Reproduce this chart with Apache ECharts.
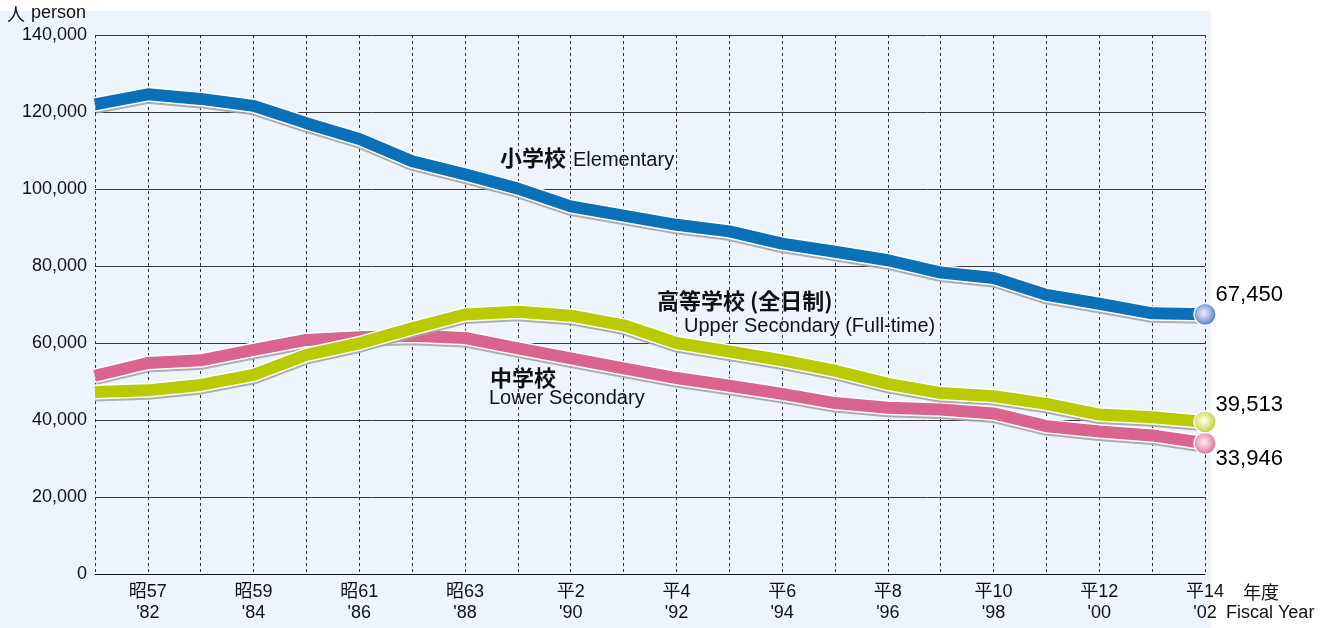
<!DOCTYPE html>
<html>
<head>
<meta charset="utf-8">
<title>児童・生徒数の推移</title>
<script src="https://cdn.jsdelivr.net/npm/echarts@6/dist/echarts.min.js"></script>
<style>
  html, body { margin: 0; padding: 0; background: #ffffff; }
  #panel { position: absolute; left: 0; top: 11px; width: 1211px; height: 617px; background: #edf4fb; }
  #chart { position: absolute; left: 0; top: 0; width: 1320px; height: 628px; }
</style>
</head>
<body>
<div id="panel"></div>
<div id="chart"></div>
<script>
// Fiscal years 1981–2002, Japanese era label and Western short year
const eraYears = ['昭56', '昭57', '昭58', '昭59', '昭60', '昭61', '昭62', '昭63', '平1', '平2', '平3',
  '平4', '平5', '平6', '平7', '平8', '平9', '平10', '平11', '平12', '平13', '平14'];
const westernYears = ["'81", "'82", "'83", "'84", "'85", "'86", "'87", "'88", "'89", "'90", "'91",
  "'92", "'93", "'94", "'95", "'96", "'97", "'98", "'99", "'00", "'01", "'02"];

// Number of students (persons)
const elementary = [122000, 124600, 123400, 121600, 117100, 113000, 107200, 103800, 100100, 95500, 93100,
  90700, 89000, 85800, 83700, 81500, 78300, 76900, 72500, 70200, 67700, 67450];
const lowerSecondary = [51500, 54800, 55500, 58200, 60800, 61500, 61900, 61300, 58600, 56000, 53400,
  50900, 48900, 46800, 44400, 43200, 42700, 41700, 38400, 37000, 36000, 33946];
const upperSecondary = [47300, 47700, 49100, 51700, 56900, 59900, 63800, 67400, 68100, 67100, 64600,
  60000, 57800, 55500, 52800, 49400, 47000, 46200, 44200, 41400, 40700, 39513];

const yTicks = { min: 0, max: 140000, interval: 20000 };

const categories = westernYears.map((w, i) => eraYears[i] + '\n' + w);
const last = categories.length - 1;
const fmt = v => Number(v).toLocaleString('en-US');

const LATIN = "'Liberation Sans', Arial, sans-serif";
const NARROW = "'Liberation Sans Narrow', 'Liberation Sans', 'Noto Sans CJK JP', sans-serif";
const CJK = "'Noto Sans CJK JP', sans-serif";

const schools = [
  { name: '小学校', data: elementary, color: '#0a71b9', inner: '#f3eef8', mid: '#a9b8e4', edge: '#2f6fc0', z: 3, labelOffset: [-1, -19] },
  { name: '中学校', data: lowerSecondary, color: '#d9648f', inner: '#fdf2f6', mid: '#f0b0c8', edge: '#d0608a', z: 5, labelOffset: [-1, 16] },
  { name: '高等学校', data: upperSecondary, color: '#b7cb00', inner: '#fdfef2', mid: '#e2eb98', edge: '#b2c618', z: 7, labelOffset: [-1, -17] }
];

const series = [];
schools.forEach(s => {
  // white edging with a thin grey drop line under the band
  series.push({
    type: 'line', data: s.data, symbol: 'none', silent: true, z: s.z,
    lineStyle: { width: 15, color: '#ffffff', join: 'round',
      shadowColor: 'rgba(165,165,165,0.9)', shadowOffsetY: 2, shadowBlur: 0 }
  });
  series.push({
    type: 'line', name: s.name, data: s.data, symbol: 'none', z: s.z + 1,
    lineStyle: { width: 12, color: s.color, join: 'round' }
  });
  // end point marker for the latest year with its value
  series.push({
    type: 'scatter', z: 10,
    data: [[categories[last], s.data[last]]],
    symbol: 'circle', symbolSize: 22,
    itemStyle: {
      color: { type: 'radial', x: 0.45, y: 0.45, r: 0.6,
        colorStops: [{ offset: 0, color: s.inner }, { offset: 0.45, color: s.mid }, { offset: 1, color: s.edge }] },
      borderColor: '#ffffff', borderWidth: 1.2, opacity: 1
    },
    label: {
      show: true, position: 'right', distance: 0, offset: s.labelOffset,
      formatter: p => fmt(p.value[1]),
      fontFamily: LATIN, fontSize: 22, color: '#000000', opacity: 1, textBorderWidth: 0
    },
    emphasis: { disabled: true }
  });
});

const chart = echarts.init(document.getElementById('chart'), null, { renderer: 'canvas' });
chart.setOption({
  animation: false,
  backgroundColor: 'transparent',
  grid: { left: 95, right: 115, top: 35, bottom: 54, containLabel: false },
  xAxis: {
    type: 'category', data: categories, boundaryGap: false,
    axisLine: { show: true, lineStyle: { color: '#111111', width: 1 } },
    axisTick: { show: false },
    axisLabel: {
      interval: (i) => i % 2 === 1, margin: 8,
      fontFamily: NARROW, fontSize: 18, lineHeight: 21, color: '#111111'
    },
    splitLine: { show: true, interval: 0, lineStyle: { color: '#333333', width: 1, type: [3, 3] } }
  },
  yAxis: {
    type: 'value', min: yTicks.min, max: yTicks.max, interval: yTicks.interval,
    axisLine: { show: false }, axisTick: { show: false },
    axisLabel: { formatter: v => fmt(v), margin: 8, fontFamily: LATIN, fontSize: 18, color: '#111111' },
    splitLine: { show: true, lineStyle: { color: '#3a3a3a', width: 1 } }
  },
  graphic: [
    { type: 'text', left: 7, top: 5, style: { text: '人', font: '18px ' + CJK, fill: '#111' } },
    { type: 'text', left: 31, top: 4, style: { text: 'person', font: '18px ' + LATIN, fill: '#111' } },

    { type: 'text', left: 500, top: 147, style: { text: '小学校', font: 'bold 22px ' + CJK, fill: '#111' } },
    { type: 'text', left: 573, top: 150, style: { text: 'Elementary', font: '20px ' + LATIN, fill: '#111' } },

    { type: 'text', left: 657, top: 290, style: { text: '高等学校 (全日制)', font: 'bold 22px ' + CJK, fill: '#111' } },
    { type: 'text', left: 684, top: 316, style: { text: 'Upper Secondary (Full-time)', font: '20px ' + LATIN, fill: '#111' } },

    { type: 'text', left: 490, top: 367, style: { text: '中学校', font: 'bold 22px ' + CJK, fill: '#111' } },
    { type: 'text', left: 489, top: 388, style: { text: 'Lower Secondary', font: '20px ' + LATIN, fill: '#111' } },

    { type: 'text', left: 1243, top: 583, style: { text: '年度', font: '18px ' + CJK, fill: '#111' } },
    { type: 'text', left: 1226, top: 604, style: { text: 'Fiscal Year', font: '18px ' + NARROW, fill: '#111' } }
  ],
  series: series
});
</script>
</body>
</html>
